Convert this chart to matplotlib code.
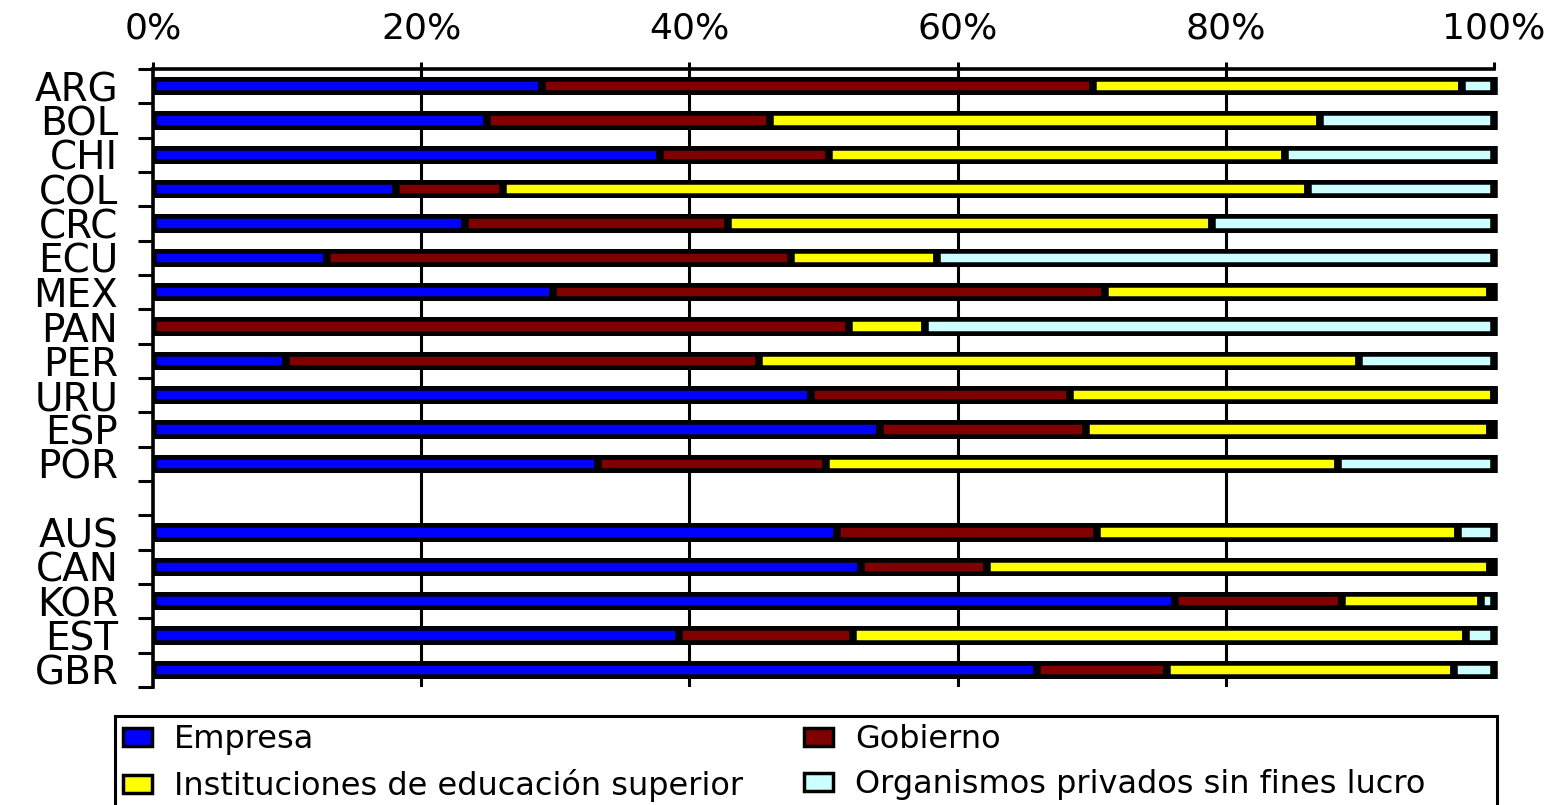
import matplotlib
matplotlib.use("Agg")
import matplotlib.pyplot as plt
from matplotlib.patches import Patch, Rectangle
from matplotlib.ticker import FixedLocator, FuncFormatter
from matplotlib.transforms import Bbox, TransformedBbox
import numpy as np

# Distribución del gasto en I+D por sector de ejecución (%)
grupo_ibero = ["ARG", "BOL", "CHI", "COL", "CRC", "ECU", "MEX", "PAN", "PER", "URU", "ESP", "POR"]
grupo_ocde = ["AUS", "CAN", "KOR", "EST", "GBR"]

empresa =    [29.0, 24.9, 37.8, 18.1, 23.3, 13.0, 29.8,  0.0,  9.9, 49.1, 54.2, 33.2,
              51.0, 52.8, 76.2, 39.2, 65.9]
gobierno =   [41.1, 21.1, 12.6,  8.0, 19.6, 34.6, 41.2, 51.9, 35.3, 19.3, 15.4, 17.0,
              19.4,  9.4, 12.5, 13.0,  9.7]
educacion =  [27.5, 41.0, 34.0, 60.0, 36.1, 10.9, 28.7,  5.7, 44.7, 31.6, 30.1, 38.2,
              26.9, 37.5, 10.3, 45.7, 21.4]
privados =   [ 2.4, 13.0, 15.6, 13.9, 21.0, 41.5,  0.3, 42.4, 10.1,  0.0,  0.3, 11.6,
               2.7,  0.3,  1.0,  2.1,  3.0]

series_nombres = ["Empresa", "Gobierno",
                  "Instituciones de educación superior",
                  "Organismos privados sin fines lucro"]
colores = ["#0000FF", "#800000", "#FFFF00", "#CCFFFF"]
x_ticks = [0, 20, 40, 60, 80, 100]

paises = grupo_ibero + grupo_ocde
# one empty row separates the two groups
pos = list(range(len(grupo_ibero))) + [len(grupo_ibero) + 1 + i for i in range(len(grupo_ocde))]
n_filas = len(grupo_ibero) + 1 + len(grupo_ocde)

plt.rcParams['font.family'] = ['DejaVu Sans']

W, H = 1566, 805
fig = plt.figure(figsize=(W / 100, H / 100), dpi=100)
ax = fig.add_axes([153 / W, 1 - 687 / H, (1494 - 153) / W, (687 - 69) / H])

ax.set_xlim(0, 100)
ax.set_ylim(n_filas - 0.5, -0.5)

# Segments carry a thick black outline; each row is clipped to a band so the
# top/bottom rims stay thinner than the separators between segments.
alto_segmento = 0.48
medio_banda = 0.265
datos = [empresa, gobierno, educacion, privados]
izq = np.zeros(len(paises))
for vals, col in zip(datos, colores):
    vals = np.array(vals)
    barras = ax.barh(pos, vals, left=izq, height=alto_segmento, color=col,
                     edgecolor="black", linewidth=5.4, zorder=3)
    for rect, y in zip(barras, pos):
        banda = Bbox.from_extents(0, y - medio_banda, 102, y + medio_banda)
        rect.set_clip_box(TransformedBbox(banda, ax.transData))
    izq += vals

for xv in x_ticks[1:-1]:
    ax.axvline(xv, color="black", linewidth=2.2, zorder=1)

# x axis on top
ax.xaxis.set_ticks_position("top")
ax.xaxis.set_label_position("top")
ax.set_xticks(x_ticks)
ax.xaxis.set_major_formatter(FuncFormatter(lambda v, p: f"{int(v)}%"))
ax.tick_params(axis="x", which="major", direction="out", length=5, width=2.2,
               pad=12, labelsize=26, colors="black")

# y axis: labels at rows, tick marks at row boundaries
ax.set_yticks(pos)
ax.set_yticklabels(paises)
ax.yaxis.set_minor_locator(FixedLocator(np.arange(-0.5, n_filas, 1.0)))
ax.tick_params(axis="y", which="major", length=0, pad=25, labelsize=28)
ax.tick_params(axis="y", which="minor", direction="out", length=11, width=2.2)

for s in ["right", "bottom"]:
    ax.spines[s].set_visible(False)
for s in ["top", "left"]:
    ax.spines[s].set_linewidth(2.6)
    ax.spines[s].set_zorder(4)

# legend, filled row by row
orden = [0, 2, 1, 3]
handles = [Patch(facecolor=colores[i], edgecolor="black", linewidth=2.5) for i in orden]
etiquetas = [series_nombres[i] for i in orden]
leg = fig.legend(handles, etiquetas, ncol=2, loc="upper left",
                 bbox_to_anchor=(120 / W, 1 - 721 / H),
                 fontsize=23, frameon=False,
                 handlelength=0.9, handleheight=0.5,
                 handletextpad=0.7, labelspacing=0.44, borderpad=0.1,
                 columnspacing=1.9, borderaxespad=0.0)

# legend box running past the lower edge of the figure
fig.add_artist(Rectangle((115 / W, -12 / H), (1497 - 115) / W, (805 - 716 + 12) / H,
                         transform=fig.transFigure, facecolor="none",
                         edgecolor="black", linewidth=2.2, clip_on=False))

fig.savefig("out.png", dpi=100)
